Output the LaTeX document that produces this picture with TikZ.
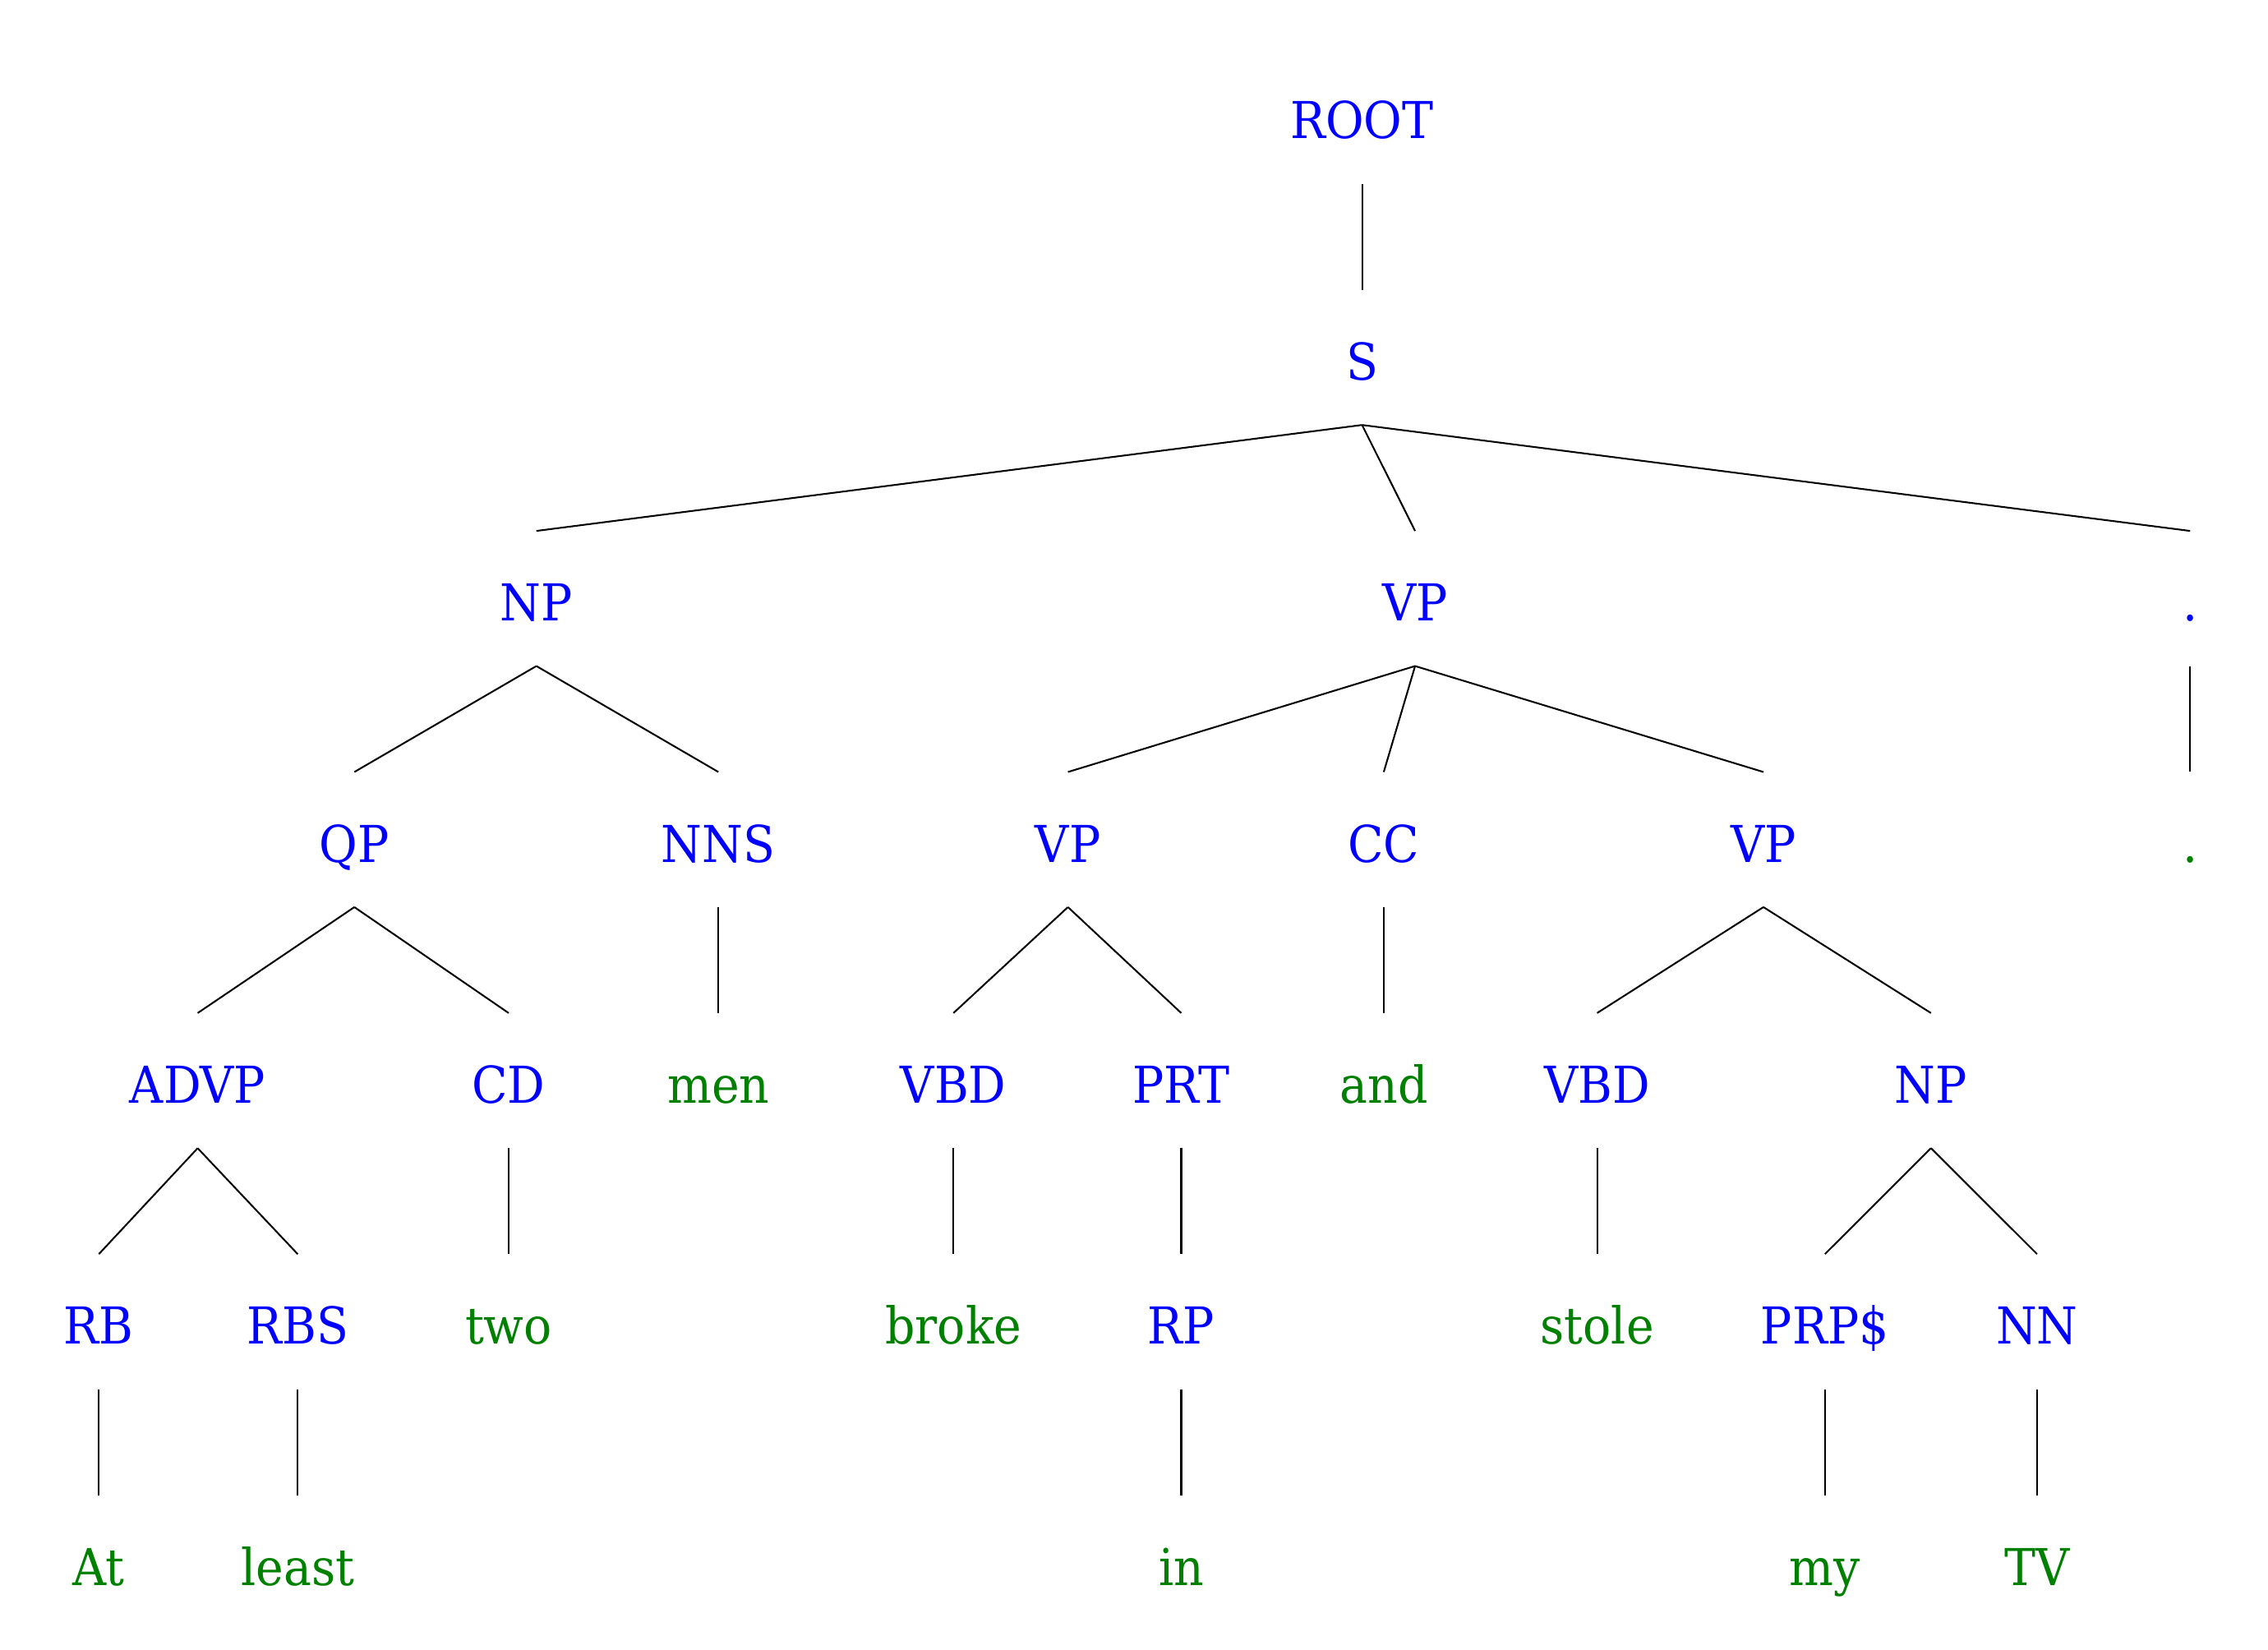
\documentclass[tikz,border=0pt]{standalone}
\usepackage{fontspec}
\setmainfont{DejaVu Serif}[FakeStretch=0.92]
\usetikzlibrary{positioning}
\definecolor{tagblue}{RGB}{0,0,255}
\definecolor{wordgreen}{RGB}{0,128,0}
\begin{document}
\begin{tikzpicture}[thin,
		tag/.style={text=tagblue, anchor=base, inner sep=0pt, text height=0.74cm, text depth=0.367cm, font=\fontsize{12}{14}\selectfont},
		word/.style={tag, text=wordgreen}]
				\useasboundingbox (0,1.152) rectangle (18.816,-12.531);
				% phrase labels
				\node[tag] (root) at (11.30, 0){ROOT};
				\node[tag] (s) at (11.30, -2){S};
				
				\node[tag] (np) at (4.45, -4){NP};
				\node[tag] (vp) at (11.74, -4){VP};
				\node[tag] (punct) at (18.17, -4){.};
				
				\node[tag] (qp) at (2.94, -6){QP};
				\node[tag] (nns) at (5.96, -6){NNS};
				\node[tag] (vpa) at (8.86, -6){VP};
				\node[tag] (cc) at (11.48, -6){CC};
				\node[tag] (vpb) at (14.63, -6){VP};
				\node[word] (dot) at (18.17, -6){.};
				
				\node[tag] (advp) at (1.64, -8){ADVP};
				\node[tag] (cd) at (4.22, -8){CD};
				\node[word] (men) at (5.96, -8){men};
				\node[tag] (vbda) at (7.91, -8){VBD};
				\node[tag] (prt) at (9.80, -8){PRT};
				\node[word] (and) at (11.48, -8){and};
				\node[tag] (vbdb) at (13.25, -8){VBD};
				\node[tag] (npb) at (16.02, -8){NP};
				
				\node[tag] (rb) at (0.82, -10){RB};
				\node[tag] (rbs) at (2.47, -10){RBS};
				\node[word] (two) at (4.22, -10){two};
				\node[word] (broke) at (7.91, -10){broke};
				\node[tag] (rp) at (9.80, -10){RP};
				\node[word] (stole) at (13.25, -10){stole};
				\node[tag] (prp) at (15.14, -10){PRP\$};
				\node[tag] (nn) at (16.90, -10){NN};
				
				% words of the last row
				\node[word] (at) at (0.82, -12){At};
				\node[word] (least) at (2.47, -12){least};
				\node[word] (in) at (9.80, -12){in};
				\node[word] (my) at (15.14, -12){my};
				\node[word] (tv) at (16.90, -12){TV};
				
				% branches
				\foreach \a/\b in {root/s, s/np, s/vp, s/punct, np/qp, np/nns, vp/vpa, vp/cc, vp/vpb, punct/dot,
					qp/advp, qp/cd, nns/men, vpa/vbda, vpa/prt, cc/and, vpb/vbdb, vpb/npb,
					advp/rb, advp/rbs, cd/two, vbda/broke, prt/rp, vbdb/stole, npb/prp, npb/nn,
					rb/at, rbs/least, rp/in, prp/my, nn/tv}
					\draw (\a.south) -- (\b.north);
					
			\end{tikzpicture}
\end{document}
